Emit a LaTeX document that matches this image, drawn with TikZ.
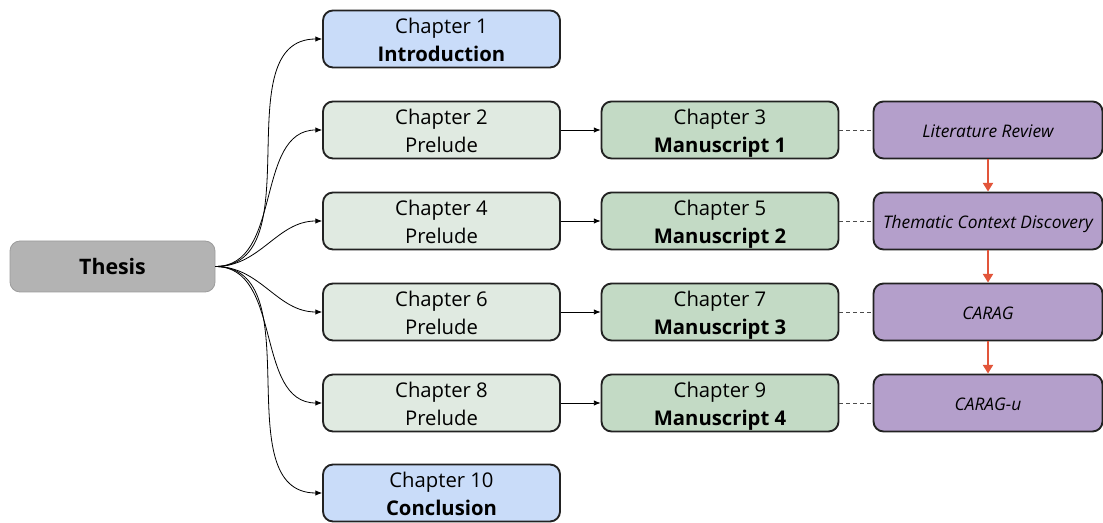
\documentclass[tikz,border=0pt]{standalone}
\usepackage{fontspec}
\setmainfont{Open Sans}
\usetikzlibrary{arrows.meta}
\definecolor{thesisfill}{HTML}{B3B3B3}
\definecolor{thesisline}{HTML}{9C9C9C}
\definecolor{bluefill}{HTML}{C9DCF9}
\definecolor{prelfill}{HTML}{E0EAE1}
\definecolor{manufill}{HTML}{C3DAC5}
\definecolor{purpfill}{HTML}{B49FCB}
\definecolor{boxline}{HTML}{222222}
\definecolor{flowred}{HTML}{E2553A}
\tikzset{
  box/.style={draw=boxline, line width=1.4pt, rounded corners=7.5pt, inner sep=0pt,
    align=center, minimum height=42.75pt, font=\fontsize{15.2pt}{21pt}\selectfont,
    text height=34.5pt, text depth=0pt},
  chapbox/.style={box, minimum width=177.75pt},
  bluebox/.style={chapbox, fill=bluefill},
  prelbox/.style={chapbox, fill=prelfill},
  manubox/.style={chapbox, fill=manufill},
  purpbox/.style={box, fill=purpfill, minimum width=171.75pt,
    font=\fontsize{13pt}{15pt}\selectfont\itshape, text height=12pt, text depth=0pt},
  thesisbox/.style={draw=thesisline, fill=thesisfill, line width=0.6pt, rounded corners=7.5pt,
    minimum width=153.75pt, minimum height=38.25pt, font=\fontsize{16pt}{18pt}\selectfont\bfseries},
  branch/.style={-{Latex[length=5pt,width=4pt]}, line width=0.6pt, black},
  link/.style={-{Latex[length=5pt,width=4pt]}, line width=0.6pt, black},
  tie/.style={dashed, dash pattern=on 3pt off 2.2pt, line width=0.6pt, black!70},
  flow/.style={-{Triangle[length=6.5pt,width=7.5pt]}, line width=1.5pt, flowred},
}
\begin{document}
\begin{tikzpicture}[x=0.75pt,y=-0.75pt]
\useasboundingbox (0,0) rectangle (1103,523);

\node[thesisbox] (thesis) at (112.5,266.5) {Thesis};

\node[bluebox] (c1) at (441.5,39) {Chapter 1\\\textbf{Introduction}};
\node[prelbox] (c2) at (441.5,130) {Chapter 2\\Prelude};
\node[prelbox] (c4) at (441.5,221) {Chapter 4\\Prelude};
\node[prelbox] (c6) at (441.5,312) {Chapter 6\\Prelude};
\node[prelbox] (c8) at (441.5,403) {Chapter 8\\Prelude};
\node[bluebox] (c10) at (441.5,493) {Chapter 10\\\textbf{Conclusion}};

\node[manubox] (c3) at (720,130) {Chapter 3\\\textbf{Manuscript 1}};
\node[manubox] (c5) at (720,221) {Chapter 5\\\textbf{Manuscript 2}};
\node[manubox] (c7) at (720,312) {Chapter 7\\\textbf{Manuscript 3}};
\node[manubox] (c9) at (720,403) {Chapter 9\\\textbf{Manuscript 4}};

\node[purpbox] (lr) at (988,130) {Literature Review};
\node[purpbox] (tcd) at (988,221) {Thematic Context Discovery};
\node[purpbox] (carag) at (988,312) {CARAG};
\node[purpbox] (caragu) at (988,403) {CARAG-u};

% branches from the thesis to each chapter
\foreach \t in {c1,c2,c4,c6,c8,c10}
  \draw[branch] (thesis.east) to[out=0,in=180] (\t.west);

% prelude -> manuscript
\foreach \a/\b in {c2/c3,c4/c5,c6/c7,c8/c9}
  \draw[link] (\a.east) -- (\b.west);

% manuscript -- contribution
\foreach \a/\b in {c3/lr,c5/tcd,c7/carag,c9/caragu}
  \draw[tie] (\a.east) -- (\b.west);

% contribution flow
\draw[flow] (lr.south) -- (tcd.north);
\draw[flow] (tcd.south) -- (carag.north);
\draw[flow] (carag.south) -- (caragu.north);
\end{tikzpicture}
\end{document}
